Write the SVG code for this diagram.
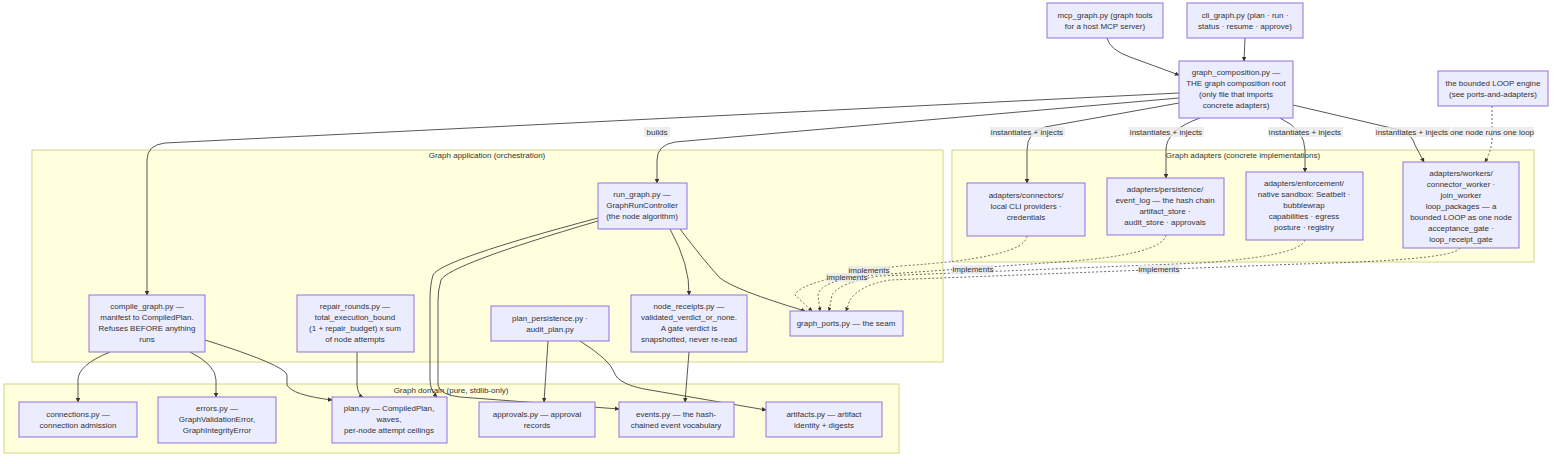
<svg xmlns="http://www.w3.org/2000/svg" width="1568" height="464" viewBox="0 0 1568 464">
<defs>
<style>
.n rect{fill:#ECECFF;stroke:#9370DB;stroke-width:1}
.c{fill:#ffffde;stroke:#d4d48a;stroke-width:1}
text{font-family:"Liberation Sans",Arial,sans-serif;font-size:8px;fill:#333;text-anchor:middle}
.e path{fill:none;stroke:#444;stroke-width:0.9;marker-end:url(#a)}
.e path.d{stroke-dasharray:2 2;stroke-width:0.8}
.l rect{fill:#e8e8e8;opacity:0.8}
</style>
<marker id="a" viewBox="0 0 10 10" refX="9" refY="5" markerWidth="5" markerHeight="5" orient="auto"><path d="M0,0L10,5L0,10z" fill="#333"/></marker>
</defs>
<rect fill="#fff" width="1568" height="464"/>
<g id="clusters">
<rect class="c" x="32" y="150" width="911" height="212"/><text x="487" y="158">Graph application (orchestration)</text>
<rect class="c" x="952" y="150" width="582" height="112"/><text x="1243" y="158">Graph adapters (concrete implementations)</text>
<rect class="c" x="4" y="384" width="895" height="69"/><text x="451" y="393">Graph domain (pure, stdlib-only)</text>
</g>
<g class="e" id="edges">
<path d="M1107,38 Q1110,50 1130,57 L1179,75"/>
<path d="M1245,38 L1244,61"/>
<path d="M1179,93 L165,143 Q147,145 147,160 L147,295"/>
<path d="M1179,98 L675,142 Q657,145 657,160 L657,183"/>
<path d="M1179,103 L1045,127 Q1027,132 1027,150 L1027,183"/>
<path d="M1200,118 Q1166,130 1166,150 L1166,178"/>
<path d="M1280,118 Q1305,130 1305,150 L1305,172"/>
<path d="M1293,105 L1400,130 Q1412,134 1415,145 L1424,162"/>
<path class="d" d="M1492,106 L1492,140 Q1491,152 1485,162"/>
<path d="M670,229 Q690,265 689,295"/>
<path d="M680,229 Q705,262 720,278 Q735,290 805,311"/>
<path d="M598,218 Q440,260 433,275 Q430,285 430,300 L430,380 Q430,390 437,397"/>
<path d="M598,221 Q448,265 441,280 Q438,290 438,300 L438,385 Q440,395 460,397 L619,409"/>
<path d="M548,341 L544,402"/>
<path d="M580,341 Q610,360 614,372 Q618,385 650,390 L766,410"/>
<path d="M689,352 L685,402"/>
<path d="M110,352 Q78,365 78,380 L78,402"/>
<path d="M190,352 Q216,365 216,380 L216,397"/>
<path d="M357,352 L357,385 Q358,395 363,397"/>
<path d="M205,340 Q285,365 287,375 L287,385 Q292,395 332,400"/>
<path class="d" d="M1027,236 Q1025,258 900,266 Q800,280 795,295 L812,311"/>
<path class="d" d="M1166,235 Q1162,255 1060,262 L860,276 Q820,282 818,295 L820,311"/>
<path class="d" d="M1305,240 Q1300,256 1200,263 L880,276 Q840,282 832,295 L829,311"/>
<path class="d" d="M1460,248 Q1455,260 1300,264 L890,280 Q860,285 850,300 L846,311"/>
</g>
<g class="l" id="labels">
<rect x="644" y="127" width="26" height="10"/><text x="657" y="135">builds</text>
<rect x="990" y="127" width="75" height="10"/><text x="1027" y="135">instantiates + injects</text>
<rect x="1129" y="127" width="75" height="10"/><text x="1166" y="135">instantiates + injects</text>
<rect x="1268" y="127" width="75" height="10"/><text x="1305" y="135">instantiates + injects</text>
<rect x="1375" y="127" width="75" height="10"/><text x="1412" y="135">instantiates + injects</text>
<rect x="1452" y="127" width="82" height="10"/><text x="1492" y="135">one node runs one loop</text>
<rect x="848" y="266" width="42" height="9"/><text x="869" y="273">implements</text>
<rect x="826" y="273" width="42" height="9"/><text x="847" y="280">implements</text>
<rect x="952" y="265" width="42" height="9"/><text x="973" y="272">implements</text>
<rect x="1138" y="265" width="42" height="9"/><text x="1159" y="272">implements</text>
</g>
<g class="n" id="mcp"><rect x="1047" y="3" width="116" height="35"/><text x="1105" y="18">mcp_graph.py (graph tools</text><text x="1105" y="29">for a host MCP server)</text></g>
<g class="n" id="cli"><rect x="1187" y="3" width="116" height="35"/><text x="1245" y="18">cli_graph.py (plan · run ·</text><text x="1245" y="29">status · resume · approve)</text></g>
<g class="n" id="comp"><rect x="1179" y="61" width="114" height="57"/><text x="1236" y="75">graph_composition.py —</text><text x="1236" y="86">THE graph composition root</text><text x="1236" y="97">(only file that imports</text><text x="1236" y="108">concrete adapters)</text></g>
<g class="n" id="loop"><rect x="1438" y="71" width="110" height="35"/><text x="1493" y="86">the bounded LOOP engine</text><text x="1493" y="97">(see ports-and-adapters)</text></g>
<g class="n" id="connectors"><rect x="967" y="183" width="118" height="53"/><text x="1026" y="198">adapters/connectors/</text><text x="1026" y="209">local CLI providers ·</text><text x="1026" y="220">credentials</text></g>
<g class="n" id="persistence"><rect x="1107" y="178" width="117" height="57"/><text x="1165" y="192">adapters/persistence/</text><text x="1165" y="203">event_log — the hash chain</text><text x="1165" y="214">artifact_store ·</text><text x="1165" y="225">audit_store · approvals</text></g>
<g class="n" id="enforcement"><rect x="1246" y="172" width="117" height="68"/><text x="1304" y="186">adapters/enforcement/</text><text x="1304" y="197">native sandbox: Seatbelt ·</text><text x="1304" y="208">bubblewrap</text><text x="1304" y="219">capabilities · egress</text><text x="1304" y="230">posture · registry</text></g>
<g class="n" id="workers"><rect x="1403" y="162" width="116" height="86"/><text x="1461" y="176">adapters/workers/</text><text x="1461" y="187">connector_worker ·</text><text x="1461" y="198">join_worker</text><text x="1461" y="209">loop_packages — a</text><text x="1461" y="220">bounded LOOP as one node</text><text x="1461" y="231">acceptance_gate ·</text><text x="1461" y="242">loop_receipt_gate</text></g>
<g class="n" id="run_graph"><rect x="598" y="183" width="89" height="46"/><text x="642" y="197">run_graph.py —</text><text x="642" y="208">GraphRunController</text><text x="642" y="219">(the node algorithm)</text></g>
<g class="n" id="compile"><rect x="89" y="295" width="116" height="57"/><text x="147" y="309">compile_graph.py —</text><text x="147" y="320">manifest to CompiledPlan.</text><text x="147" y="331">Refuses BEFORE anything</text><text x="147" y="342">runs</text></g>
<g class="n" id="repair"><rect x="297" y="295" width="117" height="57"/><text x="355" y="309">repair_rounds.py —</text><text x="355" y="320">total_execution_bound</text><text x="355" y="331">(1 + repair_budget) x sum</text><text x="355" y="342">of node attempts</text></g>
<g class="n" id="plan_persist"><rect x="491" y="306" width="118" height="35"/><text x="550" y="321">plan_persistence.py ·</text><text x="550" y="332">audit_plan.py</text></g>
<g class="n" id="node_receipts"><rect x="631" y="295" width="116" height="57"/><text x="689" y="309">node_receipts.py —</text><text x="689" y="320">validated_verdict_or_none.</text><text x="689" y="331">A gate verdict is</text><text x="689" y="342">snapshotted, never re-read</text></g>
<g class="n" id="graph_ports"><rect x="790" y="311" width="113" height="25"/><text x="846" y="326">graph_ports.py — the seam</text></g>
<g class="n" id="connections"><rect x="19" y="402" width="118" height="35"/><text x="78" y="417">connections.py —</text><text x="78" y="428">connection admission</text></g>
<g class="n" id="errors"><rect x="158" y="397" width="118" height="46"/><text x="217" y="411">errors.py —</text><text x="217" y="422">GraphValidationError,</text><text x="217" y="433">GraphIntegrityError</text></g>
<g class="n" id="plan"><rect x="332" y="397" width="115" height="46"/><text x="389" y="411">plan.py — CompiledPlan,</text><text x="389" y="422">waves,</text><text x="389" y="433">per-node attempt ceilings</text></g>
<g class="n" id="approvals"><rect x="479" y="402" width="116" height="35"/><text x="537" y="417">approvals.py — approval</text><text x="537" y="428">records</text></g>
<g class="n" id="events"><rect x="619" y="402" width="115" height="35"/><text x="676" y="417">events.py — the hash-</text><text x="676" y="428">chained event vocabulary</text></g>
<g class="n" id="artifacts"><rect x="766" y="402" width="116" height="35"/><text x="824" y="417">artifacts.py — artifact</text><text x="824" y="428">identity + digests</text></g>
</svg>
